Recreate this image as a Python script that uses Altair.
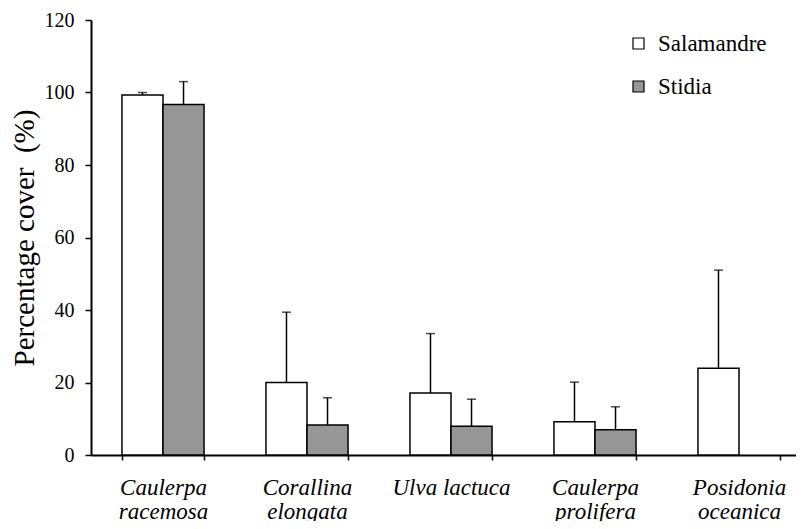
import altair as alt
import pandas as pd

species = ["Caulerpa|racemosa", "Corallina|elongata", "Ulva lactuca", "Caulerpa|prolifera", "Posidonia|oceanica"]
sites = ["Salamandre", "Stidia"]
sal_mean = [99.3, 20.0, 17.1, 9.2, 23.9]
sal_err = [0.7, 19.4, 16.4, 10.9, 27.1]
sti_mean = [96.7, 8.3, 7.9, 7.0, None]
sti_err = [6.3, 7.5, 7.5, 6.3, None]
colors = ["white", "#969696"]
y_ticks = [0, 20, 40, 60, 80, 100, 120]

rows = []
for i, s in enumerate(species):
    rows.append(dict(species=s, site=sites[0], value=sal_mean[i], err=sal_err[i]))
    if sti_mean[i] is not None:
        rows.append(dict(species=s, site=sites[1], value=sti_mean[i], err=sti_err[i]))
df = pd.DataFrame(rows)
df["upper"] = df["value"] + df["err"]

FONT = "Liberation Serif"

x = alt.X(
    "species:N",
    sort=species,
    scale=alt.Scale(range=[0, 720], paddingInner=0.43, paddingOuter=0.215),
    axis=alt.Axis(
        title=None,
        labelExpr="split(datum.label, '|')",
        labelAngle=0,
        labelFont=FONT,
        labelFontStyle="italic",
        labelFontSize=23,
        labelLineHeight=24,
        labelPadding=16,
        labelOverlap=False,
        labelBound=False,
        labelLimit=0,
        tickBand="extent",
        tickSize=5,
        grid=False,
    ),
)
xoff = alt.XOffset("site:N", scale=alt.Scale(domain=sites, paddingInner=0, paddingOuter=0))
y_scale = alt.Scale(domain=[0, 120], nice=False)
y_axis = alt.Axis(
    title="Percentage cover\u00a0 (%)",
    titleFont=FONT,
    titleFontSize=29,
    titleFontWeight="normal",
    titlePadding=5,
    values=y_ticks,
    labelFont=FONT,
    labelFontSize=20,
    labelPadding=11,
    tickSize=6,
    grid=False,
)

base = alt.Chart(df)

bars = base.mark_bar(stroke="black", strokeWidth=1.5).encode(
    x=x,
    xOffset=xoff,
    y=alt.Y("value:Q", scale=y_scale, axis=y_axis),
    fill=alt.Fill(
        "site:N",
        scale=alt.Scale(domain=sites, range=colors),
        legend=alt.Legend(
            title=None,
            orient="none",
            legendX=536,
            legendY=12,
            symbolType="square",
            symbolSize=121,
            symbolStrokeColor="black",
            symbolStrokeWidth=1.2,
            symbolOpacity=1,
            labelFont=FONT,
            labelFontSize=23,
            labelOffset=8,
            rowPadding=19,
        ),
    ),
)

rules = base.mark_rule(color="black", strokeWidth=1.5).encode(
    x=alt.X("species:N", sort=species), xOffset=xoff,
    y=alt.Y("value:Q", scale=y_scale), y2="upper:Q"
)
caps = base.mark_tick(color="black", orient="horizontal", size=9, thickness=1.5).encode(
    x=alt.X("species:N", sort=species), xOffset=xoff,
    y=alt.Y("upper:Q", scale=y_scale)
)

chart = (
    alt.layer(bars, rules, caps)
    .properties(
        width=705,
        height=435,
        autosize="none",
        padding={"left": 83, "top": 12, "right": 0, "bottom": 66},
        background="white",
    )
    .configure_view(stroke=None)
    .configure_axis(
        labelColor="black",
        titleColor="black",
        tickColor="black",
        domainColor="black",
        tickWidth=1.5,
        domainWidth=2,
    )
    .configure_legend(labelColor="black")
)

chart.save("out.html", embed_options={"renderer": "svg", "actions": False})
